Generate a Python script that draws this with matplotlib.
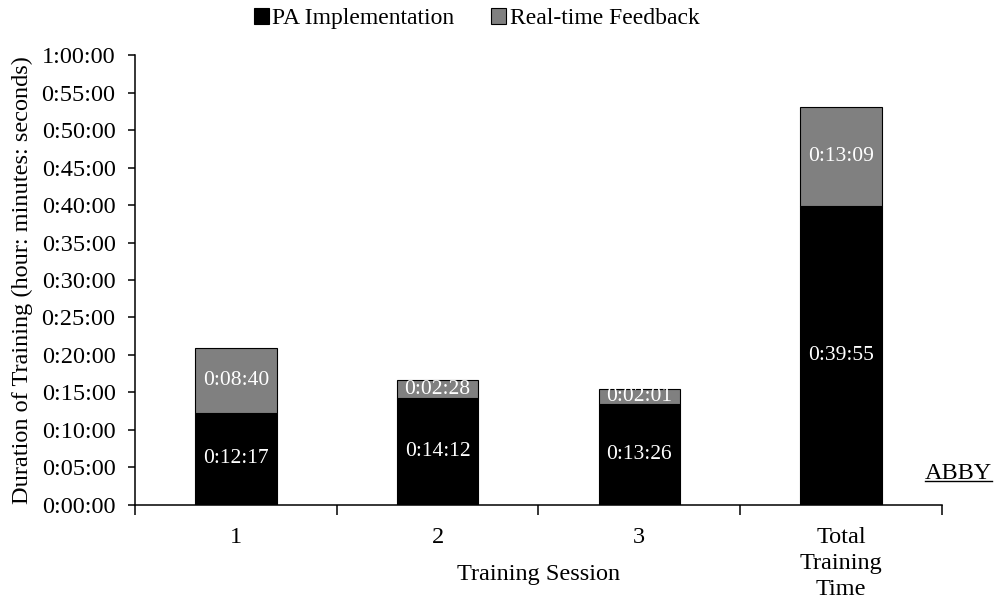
import matplotlib
matplotlib.use("Agg")
import matplotlib.pyplot as plt
from matplotlib.ticker import FuncFormatter, FixedLocator
from matplotlib.lines import Line2D
import numpy as np

# data (h:mm:ss)
categories = ["1", "2", "3", "Total\nTraining\nTime"]
pa_impl = ["0:12:17", "0:14:12", "0:13:26", "0:39:55"]
rt_feedback = ["0:08:40", "0:02:28", "0:02:01", "0:13:09"]
series_names = ["PA Implementation", "Real-time Feedback"]


def to_sec(s):
    h, m, sec = s.split(":")
    return int(h) * 3600 + int(m) * 60 + int(sec)


def fmt_hms(v, pos=None):
    v = int(round(v))
    return f"{v // 3600}:{(v % 3600) // 60:02d}:{v % 60:02d}"


pa_sec = np.array([to_sec(s) for s in pa_impl])
rt_sec = np.array([to_sec(s) for s in rt_feedback])

FS = 17.5      # axis text
FS_BAR = 15.5  # labels inside bars
plt.rcParams["font.family"] = ["Liberation Serif", "DejaVu Serif"]
plt.rcParams["font.size"] = FS

fig = plt.figure(figsize=(9.95, 6.06), dpi=100)
ax = fig.add_axes([0.1357, 0.1667, 0.811, 0.7425])

x = np.arange(len(categories))
b1 = ax.bar(x, pa_sec, width=0.405, color="black", edgecolor="black",
            linewidth=0.8, label=series_names[0])
b2 = ax.bar(x, rt_sec, width=0.405, bottom=pa_sec, color="#808080",
            edgecolor="black", linewidth=0.8, label=series_names[1])

ax.bar_label(b1, labels=pa_impl, label_type="center", color="white", fontsize=FS_BAR)
ax.bar_label(b2, labels=rt_feedback, label_type="center", color="white", fontsize=FS_BAR)

# axes
ax.set_xlim(-0.5, 3.5)
ax.set_ylim(0, 3600)
ax.set_yticks(np.arange(0, 3601, 300))
ax.yaxis.set_major_formatter(FuncFormatter(fmt_hms))
ax.set_xticks(x)
ax.set_xticklabels(categories, linespacing=1.3)
ax.xaxis.set_minor_locator(FixedLocator(np.arange(-0.5, 3.6, 1)))
ax.tick_params(axis="x", which="major", length=0, pad=16)
ax.tick_params(axis="x", which="minor", length=7, width=1.1, direction="out")
ax.tick_params(axis="y", length=5, width=1.1, direction="out", pad=9)

for side in ["top", "right"]:
    ax.spines[side].set_visible(False)
for side in ["left", "bottom"]:
    ax.spines[side].set_linewidth(1.1)

ax.set_ylabel("Duration of Training (hour: minutes: seconds)", fontsize=FS)
ax.yaxis.set_label_coords(-0.126, 0.5)
ax.set_xlabel("Training Session", fontsize=FS)
ax.xaxis.set_label_coords(0.5, -0.131)

fig.legend(loc="center", bbox_to_anchor=(0.479, 0.969), ncol=2, frameon=False,
           handlelength=0.63, handleheight=0.63, handletextpad=0.15,
           columnspacing=1.55, fontsize=17, borderpad=0.2)

# underlined ABBY tag
abby = ax.text(1.0205, 0.069, "ABBY", transform=ax.transAxes,
               ha="center", va="center", fontsize=FS)
fig.canvas.draw()
bb = abby.get_window_extent()
fig.add_artist(Line2D([bb.x0, bb.x1], [bb.y0 + 3, bb.y0 + 3], color="black",
                      linewidth=1.0, transform=None))

fig.savefig("out.png", dpi=100)
